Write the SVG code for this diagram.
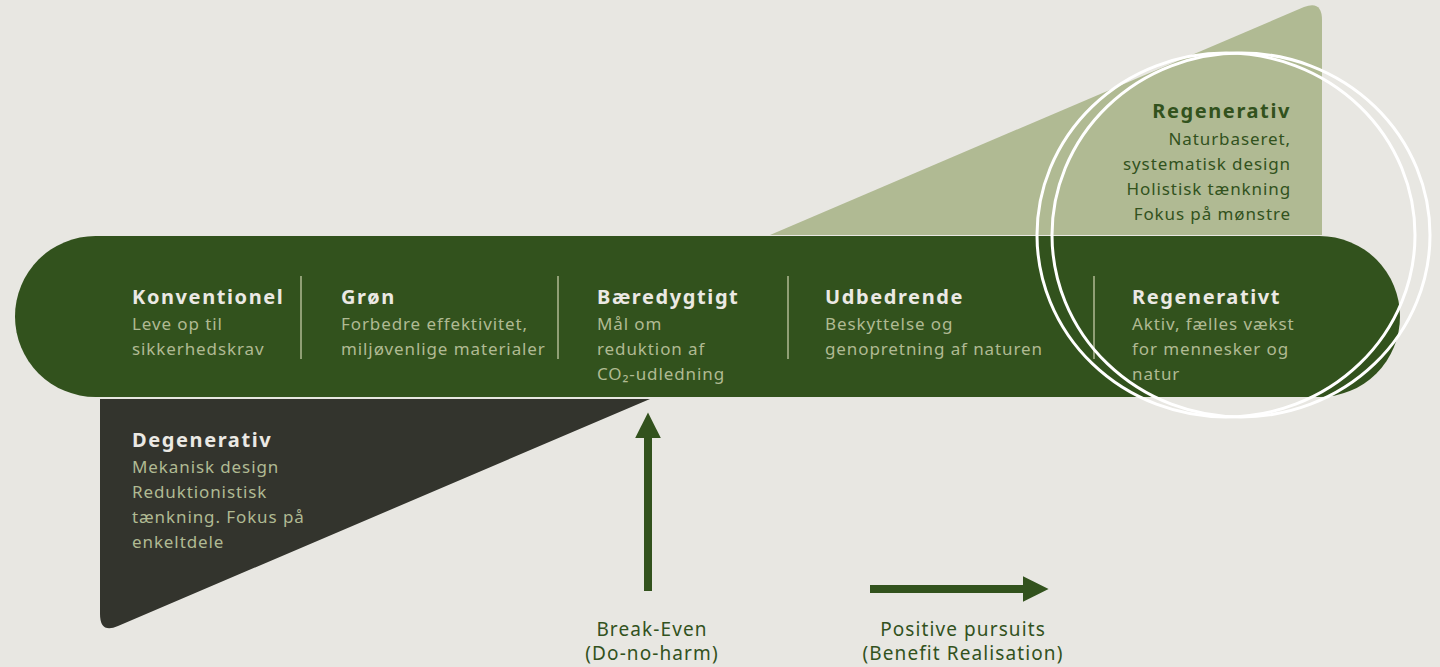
<svg xmlns="http://www.w3.org/2000/svg" width="1440" height="667" viewBox="0 0 1440 667">
  <defs>
    <marker id="ah" viewBox="0 0 10 10" refX="0" refY="5" markerWidth="3.2" markerHeight="3.2" markerUnits="strokeWidth" orient="auto">
      <path d="M0,0 L10,5 L0,10 Z" fill="#32521d"/>
    </marker>
    <style>
      text { font-family: "Noto Sans", "Liberation Sans", sans-serif; }
      .t { font-size: 20px; font-weight: 700; fill: #ebe9e4; letter-spacing: 1.6px; }
      .s { font-size: 17px; fill: #b0ba93; letter-spacing: 0.9px; }
      .tg { font-size: 20px; font-weight: 700; fill: #32521d; letter-spacing: 1.6px; }
      .sg { font-size: 17px; fill: #32521d; letter-spacing: 0.9px; }
      .lbl { font-size: 19px; fill: #32521d; text-anchor: middle; letter-spacing: 1.1px; }
      .div { stroke: #b0ba93; stroke-width: 1.5; }
      .ring { fill: none; stroke: #ffffff; stroke-width: 3; }
      .conn { stroke: #32521d; stroke-width: 8; fill: none; }
    </style>
  </defs>
  <rect x="0" y="0" width="1440" height="667" fill="#e8e7e2"/>

  <g id="regenerativ-triangle">
    <path d="M770,235 L1304,7 Q1322,0 1322,20 L1322,235 Z" fill="#b0ba93"/>
    <text class="tg" x="1291" y="118" text-anchor="end">Regenerativ</text>
    <text class="sg" x="1291" y="145" text-anchor="end">Naturbaseret,</text>
    <text class="sg" x="1291" y="170" text-anchor="end">systematisk design</text>
    <text class="sg" x="1291" y="195" text-anchor="end">Holistisk tænkning</text>
    <text class="sg" x="1291" y="220" text-anchor="end">Fokus på mønstre</text>
  </g>

  <g id="degenerativ-triangle">
    <path d="M100,399 L650,399 L118,626 Q100,634 100,614 Z" fill="#33342d"/>
    <text class="t" x="132" y="447">Degenerativ</text>
    <text class="s" x="132" y="473">Mekanisk design</text>
    <text class="s" x="132" y="498">Reduktionistisk</text>
    <text class="s" x="132" y="523">tænkning. Fokus på</text>
    <text class="s" x="132" y="548">enkeltdele</text>
  </g>

  <g id="band">
    <rect x="15" y="236" width="1385" height="161" rx="80.5" ry="80.5" fill="#32521d"/>
    <line class="div" x1="301" y1="276" x2="301" y2="359"/>
    <line class="div" x1="558" y1="276" x2="558" y2="359"/>
    <line class="div" x1="788" y1="276" x2="788" y2="359"/>
    <line class="div" x1="1094" y1="276" x2="1094" y2="359"/>
  </g>

  <g id="konventionel">
    <text class="t" x="132" y="304">Konventionel</text>
    <text class="s" x="132" y="330">Leve op til</text>
    <text class="s" x="132" y="355">sikkerhedskrav</text>
  </g>
  <g id="groen">
    <text class="t" x="341" y="304">Grøn</text>
    <text class="s" x="341" y="330">Forbedre effektivitet,</text>
    <text class="s" x="341" y="355">miljøvenlige materialer</text>
  </g>
  <g id="baeredygtigt">
    <text class="t" x="597" y="304">Bæredygtigt</text>
    <text class="s" x="597" y="330">Mål om</text>
    <text class="s" x="597" y="355">reduktion af</text>
    <text class="s" x="597" y="380">CO₂-udledning</text>
  </g>
  <g id="udbedrende">
    <text class="t" x="825" y="304">Udbedrende</text>
    <text class="s" x="825" y="330">Beskyttelse og</text>
    <text class="s" x="825" y="355">genopretning af naturen</text>
  </g>
  <g id="regenerativt">
    <text class="t" x="1132" y="304">Regenerativt</text>
    <text class="s" x="1132" y="330">Aktiv, fælles vækst</text>
    <text class="s" x="1132" y="355">for mennesker og</text>
    <text class="s" x="1132" y="380">natur</text>
  </g>

  <g id="rings">
    <ellipse class="ring" cx="1226" cy="235" rx="189" ry="182"/>
    <ellipse class="ring" cx="1241" cy="235" rx="189" ry="182"/>
  </g>

  <g id="connectors">
    <line class="conn" x1="648" y1="591" x2="648" y2="438" marker-end="url(#ah)"/>
    <line class="conn" x1="870" y1="589" x2="1023" y2="589" marker-end="url(#ah)"/>
  </g>

  <g id="break-even">
    <text class="lbl" x="652" y="636">Break-Even</text>
    <text class="lbl" x="652" y="660">(Do-no-harm)</text>
  </g>
  <g id="positive-pursuits">
    <text class="lbl" x="963" y="636">Positive pursuits</text>
    <text class="lbl" x="963" y="660">(Benefit Realisation)</text>
  </g>
</svg>
